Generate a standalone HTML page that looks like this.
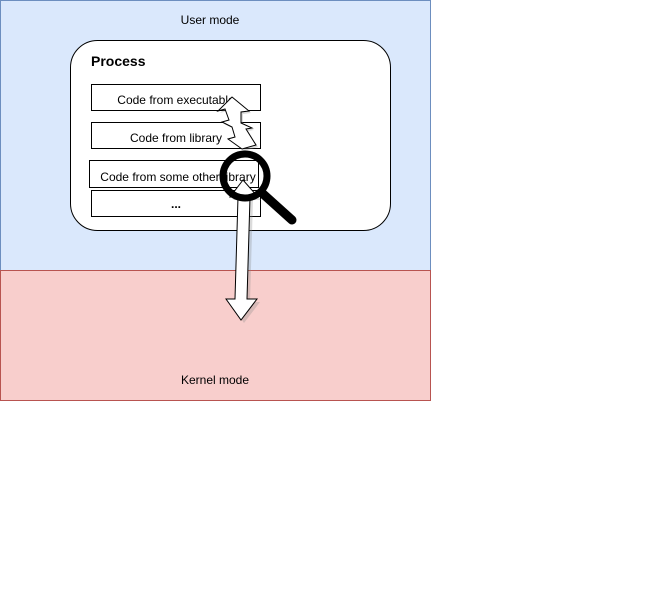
<!DOCTYPE html><html><head><style>body{margin:0;width:653px;height:597px;background:#fff;font-family:"Liberation Sans",sans-serif;}</style></head><body>
<svg width="653" height="597" xmlns="http://www.w3.org/2000/svg" style="position:absolute;left:0;top:0">
<rect x="0.5" y="0.5" width="430" height="270" fill="#dae8fc" stroke="#6c8ebf"/>
<rect x="0.5" y="270.5" width="430" height="130" fill="#f8cecc" stroke="#b85450"/>
<text x="210" y="24" font-size="12" text-anchor="middle">User mode</text>
<text x="215" y="384" font-size="12" text-anchor="middle">Kernel mode</text>
<rect x="70.5" y="40.5" width="320" height="190" rx="27" fill="#fff" stroke="#000"/>
<text x="91" y="66" font-size="14" font-weight="bold">Process</text>
<g fill="#fff" stroke="#000"><rect x="91.5" y="84.5" width="169" height="26"/><rect x="91.5" y="122.5" width="169" height="26"/><rect x="89.5" y="160.5" width="169" height="27"/><rect x="91.5" y="190.5" width="169" height="26"/></g>
<g font-size="12" text-anchor="middle"><text x="176" y="104">Code from executable</text><text x="176" y="142">Code from library</text><text x="178" y="181">Code from some other library</text><text x="176" y="208" font-weight="bold">...</text></g>
<path d="M232,97 L249,111 L241,112 L241,123 L252,128 L246,129 L256,145 L242,149 L228,139 L235,137 L232,127 L222,122 L229,120 L225,109 L218,111 Z" fill="#888" opacity="0.3" transform="translate(2,2)"/>
<path d="M232,97 L249,111 L241,112 L241,123 L252,128 L246,129 L256,145 L242,149 L228,139 L235,137 L232,127 L222,122 L229,120 L225,109 L218,111 Z" fill="#fff" stroke="#000"/>
<path d="M243,180 L258,197 L250,197 L247,299 L257,299 L241,320 L226,299 L235,299 L238,197 L230,197 Z" fill="#888" opacity="0.3" transform="translate(3,3)"/>
<path d="M243,180 L258,197 L250,197 L247,299 L257,299 L241,320 L226,299 L235,299 L238,197 L230,197 Z" fill="#fff" stroke="#000"/>
<circle cx="245" cy="176" r="22" fill="none" stroke="#000" stroke-width="7"/>
<line x1="262" y1="193" x2="292" y2="220" stroke="#000" stroke-width="9" stroke-linecap="round"/>
</svg>
</body></html>
